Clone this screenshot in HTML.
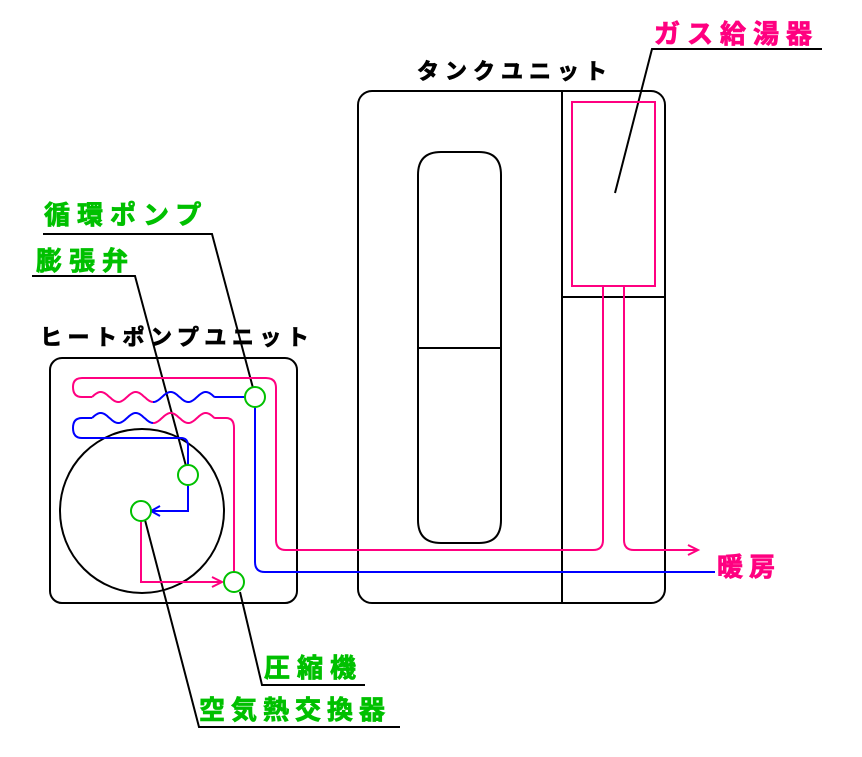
<!DOCTYPE html>
<html><head><meta charset="utf-8"><style>
html,body{margin:0;padding:0;background:#fff;}
svg{display:block}
text{font-family:"Liberation Sans","Noto Sans CJK JP",sans-serif;font-weight:bold;stroke-width:0.8;}
</style></head><body>
<svg id="s" width="862" height="757" viewBox="0 0 862 757" xmlns="http://www.w3.org/2000/svg">
<g fill="none" stroke="#000" stroke-width="2">
<rect x="50" y="358" width="247" height="245" rx="12"/>
<circle cx="142" cy="511" r="82"/>
<rect x="358" y="91" width="307" height="512" rx="14"/>
<line x1="562" y1="91" x2="562" y2="603"/>
<line x1="562" y1="297" x2="665" y2="297"/>
<path d="M418 175 Q418 152 441 152 L479 152 Q501 152 501 175 L501 520 Q501 543 479 543 L441 543 Q418 543 418 520 Z"/>
<line x1="418" y1="348" x2="501" y2="348"/>
<path d="M43 234 H212 L253 388"/>
<path d="M32 276 H135 L186 466"/>
<path d="M365 685 H262 L240 592"/>
<path d="M400 727 H199 L145 520"/>
<path d="M822 49 H652 L615 193"/>
</g>
<g fill="none" stroke="#ff0080" stroke-width="2">
<rect x="572" y="102" width="83" height="184"/>
<path d="M603 286 V540 Q603 550 593 550 H286 Q276 550 276 540 V388 Q276 378 266 378 H82 Q73 378 73 387 Q73 397 82 397 H92"/>
<path d="M624 286 V540 Q624 550 634 550 H698 M688 545 L698 550 L688 555"/>
<path d="M215 418 H226 Q234 418 234 428 V572"/>
<path d="M141 521 V582 H222 M212 577 L222 582 L212 587"/>
</g>
<g fill="none" stroke="#0000ff" stroke-width="2">
<path d="M215 397 H245"/>
<path d="M255 407 V562 Q255 572 265 572 H715"/>
<path d="M92 418 H82 Q73 418 73 428 Q73 438 82 438 H181 Q188 438 188 446 V465"/>
<path d="M188 485 V511 H152 M160 506 L151 511 L160 516"/>
</g>
<g id="w"></g>
<g fill="#fff" stroke="#00c000" stroke-width="2">
<circle cx="255" cy="397" r="10"/>
<circle cx="188" cy="475" r="10"/>
<circle cx="141" cy="511" r="10"/>
<circle cx="234" cy="582" r="10"/>
</g>
<text x="44" y="224" font-size="26" fill="#00c000" stroke="#00c000" letter-spacing="7">循環ポンプ</text>
<text x="36" y="270" font-size="26" fill="#00c000" stroke="#00c000" letter-spacing="7">膨張弁</text>
<text x="40" y="345" font-size="22" fill="#000" stroke="#000" letter-spacing="5.5">ヒートポンプユニット</text>
<text x="417" y="79" font-size="22" fill="#000" stroke="#000" letter-spacing="6">タンクユニット</text>
<text x="654" y="43" font-size="26" fill="#ff0080" stroke="#ff0080" letter-spacing="7">ガス給湯器</text>
<text x="717" y="576" font-size="26" fill="#ff0080" stroke="#ff0080" letter-spacing="6">暖房</text>
<text x="264" y="677" font-size="26" fill="#00c000" stroke="#00c000" letter-spacing="7">圧縮機</text>
<text x="199" y="719" font-size="26" fill="#00c000" stroke="#00c000" letter-spacing="6">空気熱交換器</text>
</svg>
<script>
(function(){
var g=document.getElementById('w');
function wave(y,x0,x1,c){
  var d='';
  for(var x=x0;x<=x1+0.01;x+=1){
    var yy=y-5*Math.sin((x-92)*Math.PI/17.5);
    d+=(d?'L':'M')+x.toFixed(1)+' '+yy.toFixed(1);
  }
  var p=document.createElementNS('http://www.w3.org/2000/svg','path');
  p.setAttribute('d',d);p.setAttribute('fill','none');p.setAttribute('stroke',c);p.setAttribute('stroke-width','2');
  g.appendChild(p);
}
wave(397,92,153,'#ff0080');wave(397,153,215,'#0000ff');
wave(418,92,153,'#0000ff');wave(418,153,215,'#ff0080');
})();
</script>
</body></html>
